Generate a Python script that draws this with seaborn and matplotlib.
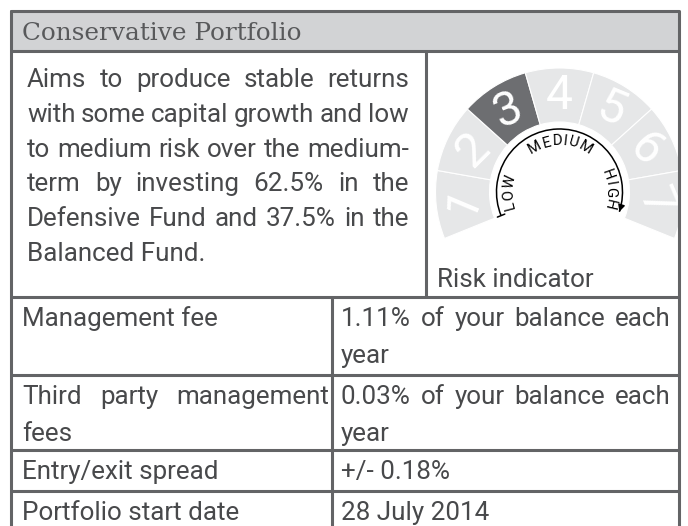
import numpy as np
import matplotlib
matplotlib.use("Agg")
import matplotlib.pyplot as plt
import seaborn as sns
from matplotlib.patches import Rectangle, Wedge, Arc

sns.set_theme(style="white")
plt.rcParams["font.family"] = ["Roboto", "DejaVu Sans"]

# content
title = "Conservative Portfolio"
description = [
    "Aims to produce stable returns",
    "with some capital growth and low",
    "to medium risk over the medium-",
    "term by investing 62.5% in the",
    "Defensive Fund and 37.5% in the",
    "Balanced Fund.",
]
risk_levels = [1, 2, 3, 4, 5, 6, 7]
current_risk = 3
risk_words = ["LOW", "MEDIUM", "HIGH"]
risk_word_angles = [180, 89, 3]
risk_label = "Risk indicator"
fee_labels = [
    ["Management fee"],
    ["Third party management", "fees"],
    ["Entry/exit spread"],
    ["Portfolio start date"],
]
fee_values = [
    ["1.11% of your balance each", "year"],
    ["0.03% of your balance each", "year"],
    ["+/- 0.18%"],
    ["28 July 2014"],
]

W, H = 688, 526
TEXT = "#48494b"
LINE = "#636466"
BAND = "#d2d3d5"
SEG_LIGHT = "#e6e7e8"
SEG_DARK = "#6d6e71"

fig = plt.figure(figsize=(W / 100, H / 100), dpi=100)
ax = fig.add_axes([0, 0, 1, 1])
ax.set_xlim(0, W)
ax.set_ylim(0, H)
ax.axis("off")
renderer = fig.canvas.get_renderer()


def Y(p):
    return H - p


def px2pt(px):
    return px * 72 / 100


BODY = px2pt(26)
WEIGHT = "normal"


def text_w(s, size, **kw):
    t = ax.text(0, 0, s, fontsize=size, **kw)
    w = t.get_window_extent(renderer).width
    t.remove()
    return w


def put_line(line, x0, x1, base, justify, size=BODY):
    words = line.split(" ")
    if not justify or len(words) == 1:
        ax.text(x0, Y(base), line, fontsize=size, color=TEXT, va="baseline",
                fontweight=WEIGHT)
        return
    widths = [text_w(w, size, fontweight=WEIGHT) for w in words]
    gap = (x1 - x0 - sum(widths)) / (len(words) - 1)
    x = x0
    for w, wd in zip(words, widths):
        ax.text(x, Y(base), w, fontsize=size, color=TEXT, va="baseline",
                fontweight=WEIGHT)
        x += wd + gap


# grid geometry (pixels)
left, right, top = 11, 679, 11
band_bot = 51
mid_bot = 297
split_top = 426
split_low = 332
row_lines = [297, 375, 450, 491, 540]

ax.add_patch(Rectangle((left, Y(band_bot)), right - left, band_bot - top,
                       fc=BAND, ec="none", zorder=0))

# title
ax.text(22, Y(40), title, fontsize=px2pt(24.8), color="#58595b",
        family="DejaVu Serif", va="baseline")

# description
for i, line in enumerate(description):
    base = 87 + i * 34.8
    put_line(line, 27, 409, base, i < len(description) - 1)

# risk dial
cx, cy = 559.5, 192
r_in, r_out = 70, 124
step = 32
start = 90 + step * len(risk_levels) / 2
cell_clip = Rectangle((split_top, Y(mid_bot)), right - split_top, mid_bot - band_bot,
                      transform=ax.transData, fc="none", ec="none")
ax.add_patch(cell_clip)
for i, lvl in enumerate(risk_levels):
    t2 = start - i * step
    t1 = t2 - step
    fc = SEG_DARK if lvl == current_risk else SEG_LIGHT
    wd = Wedge((cx, Y(cy)), r_out, t1, t2, width=r_out - r_in, fc=fc,
               ec="white", lw=0.8, zorder=1)
    ax.add_patch(wd)
    wd.set_clip_path(cell_clip)
    m = np.radians((t1 + t2) / 2)
    t = ax.text(cx + 96 * np.cos(m), Y(cy) + 96 * np.sin(m), str(lvl),
                fontsize=px2pt(48), color="white", fontweight="normal",
                ha="center", va="center", rotation=0.7 * (np.degrees(m) - 90),
                rotation_mode="anchor", zorder=2)
    t.set_clip_path(cell_clip)

# arc with arrow
r_arc = 63
a0, a1 = -18, 202
ax.add_patch(Arc((cx, Y(cy)), 2 * r_arc, 2 * r_arc, theta1=a0, theta2=a1,
                 color="black", lw=1.1, zorder=3))
ra = np.radians(a1)
ax.plot([cx + (r_arc - 4) * np.cos(ra), cx + (r_arc + 4) * np.cos(ra)],
        [Y(cy) + (r_arc - 4) * np.sin(ra), Y(cy) + (r_arc + 4) * np.sin(ra)],
        color="black", lw=1.1, zorder=3)
re = np.radians(a0)
end = np.array([cx + r_arc * np.cos(re), Y(cy) + r_arc * np.sin(re)])
tang = np.array([np.sin(re), -np.cos(re)])
ax.annotate("", xy=end + tang * 3, xytext=end - tang * 3,
            arrowprops=dict(arrowstyle="-|>", color="black", lw=1,
                            mutation_scale=10), zorder=3)

# curved words
r_txt = 51
wsize = px2pt(15)
track = 1.5
for word, ca in zip(risk_words, risk_word_angles):
    cw = [text_w(c, wsize) + track for c in word]
    total = sum(cw)
    a = np.radians(ca) + total / 2 / r_txt
    for c, w in zip(word, cw):
        ang = a - (w / 2) / r_txt
        ax.text(cx + r_txt * np.cos(ang), Y(cy) + r_txt * np.sin(ang), c,
                fontsize=wsize, color="black", ha="center", va="center",
                rotation=np.degrees(ang) - 90, rotation_mode="anchor", zorder=3)
        a -= w / r_txt

ax.text(437, Y(287), risk_label, fontsize=BODY, color=TEXT, va="baseline",
        fontweight=WEIGHT)

# fee table
for k, (lab, val) in enumerate(zip(fee_labels, fee_values)):
    rt = row_lines[k]
    for j, line in enumerate(lab):
        put_line(line, 22, 329, rt + 29 + j * 37, j < len(lab) - 1)
    for j, line in enumerate(val):
        put_line(line, 341, 671, rt + 29 + j * 37, j < len(val) - 1)

# borders
lw = 2.2
ax.plot([left, right, right], [Y(top), Y(top), Y(H + 5)], color=LINE, lw=lw)
ax.plot([left, left], [Y(top), Y(H + 5)], color=LINE, lw=lw)
ax.plot([left, right], [Y(band_bot), Y(band_bot)], color=LINE, lw=lw)
ax.plot([split_top, split_top], [Y(band_bot), Y(mid_bot)], color=LINE, lw=lw)
ax.plot([split_low, split_low], [Y(mid_bot), Y(H + 5)], color=LINE, lw=lw)
for r in row_lines[:-1]:
    ax.plot([left, right], [Y(r), Y(r)], color=LINE, lw=lw)

fig.savefig("out.png", dpi=100, facecolor="white")
